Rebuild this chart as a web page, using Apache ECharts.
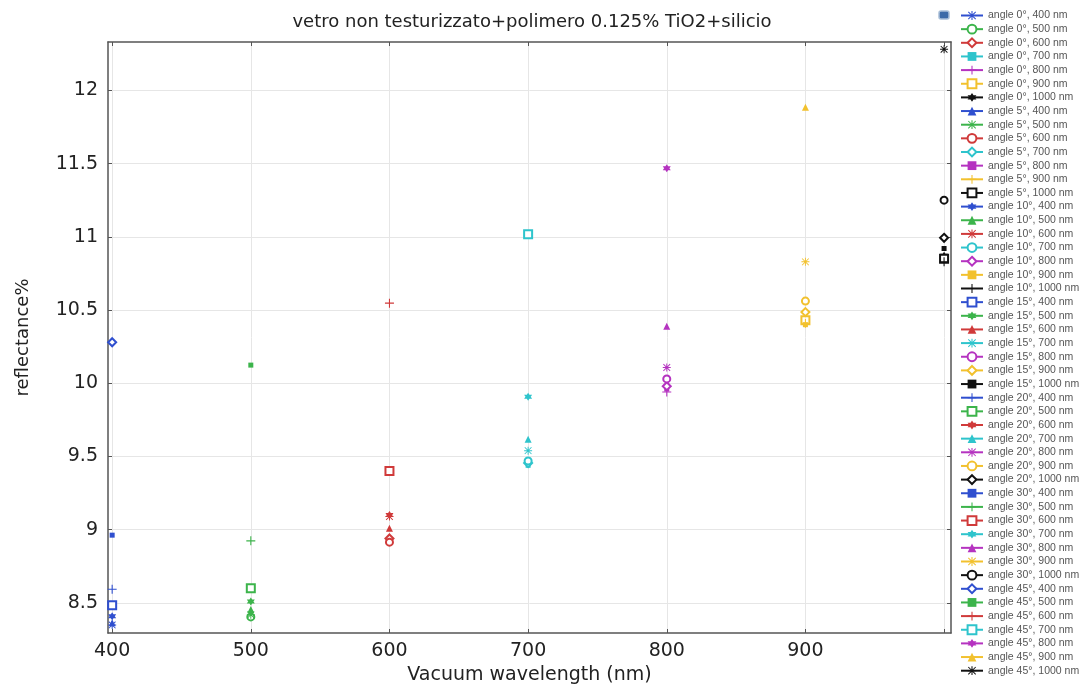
<!DOCTYPE html>
<html>
<head>
<meta charset="utf-8">
<script src="https://cdn.jsdelivr.net/npm/echarts@6/dist/echarts.min.js"></script>
<style>
  html, body { margin: 0; padding: 0; background: #fff; }
  #chart { width: 1087px; height: 684px; }
</style>
</head>
<body>
<div id="chart"></div>
<script>
// wavelengths (nm) on the x axis, one series per angle/wavelength pair
const wavelengths = [400, 500, 600, 700, 800, 900, 1000];
const angles = [0, 5, 10, 15, 20, 30, 45];

// reflectance%, one value per wavelength
const refl0  = [8.35, 8.405, 8.94, 9.44, 9.94, 10.43, 10.87];
const refl5  = [8.365, 8.42, 8.915, 9.455, 9.96, 10.41, 10.85];
const refl10 = [8.41, 8.455, 9.09, 9.47, 9.98, 10.40, 10.83];
const refl15 = [8.485, 8.51, 9.01, 9.54, 10.03, 10.486, 10.92];
const refl20 = [8.594, 8.60, 9.10, 9.617, 10.108, 10.561, 10.993];
const refl30 = [8.963, 8.924, 9.401, 9.908, 10.39, 10.829, 11.25];
const refl45 = [10.28, 10.124, 10.547, 11.018, 11.468, 11.884, 12.28];
const reflByAngle = [refl0, refl5, refl10, refl15, refl20, refl30, refl45];

const xTickLabels = [400, 500, 600, 700, 800, 900];
const xTicks = [400, 500, 600, 700, 800, 900, 1000];
const yTicks = [8.5, 9, 9.5, 10, 10.5, 11, 11.5, 12];

// one colour per wavelength, markers cycle like the original plot
const colors = ['#2f4fcf', '#3cb44b', '#d03a3a', '#2ec4cc', '#b533c0', '#f2c12e', '#111111'];
const asterisk = 'path://M4.4,0H5.6V10H4.4Z M0,4.4H10V5.6H0Z M1.2,0.4L9.6,8.8L8.8,9.6L0.4,1.2Z M8.8,0.4L9.6,1.2L1.2,9.6L0.4,8.8Z';
const plus = 'path://M4.4,0H5.6V4.4H10V5.6H5.6V10H4.4V5.6H0V4.4H4.4Z';
const star = 'path://M5,0L9.33,7.5L0.67,7.5Z M5,10L0.67,2.5L9.33,2.5Z';
const markers = [
  { symbol: asterisk, size: 8 },
  { symbol: 'emptyCircle', size: 7 },
  { symbol: 'emptyDiamond', size: 8 },
  { symbol: 'rect', size: 5 },
  { symbol: plus, size: 9 },
  { symbol: 'emptyRect', size: 8 },
  { symbol: star, size: 8 },
  { symbol: 'triangle', size: 7 }
];

const series = [];
const legendNames = [];
angles.forEach((a, ai) => {
  wavelengths.forEach((wl, wi) => {
    const idx = ai * wavelengths.length + wi;
    const m = markers[idx % markers.length];
    const name = 'angle ' + a + '°, ' + wl + ' nm';
    legendNames.push(name);
    series.push({
      name: name,
      type: 'line',
      data: [[wl, reflByAngle[ai][wi]]],
      symbol: m.symbol,
      symbolSize: m.size,
      showSymbol: true,
      color: colors[wi],
      itemStyle: { color: colors[wi], borderWidth: 1.2 },
      lineStyle: { color: colors[wi], width: 1 },
      animation: false,
      z: 3
    });
  });
});

const chart = echarts.init(document.getElementById('chart'));
const axisCol = '#555';

chart.setOption({
  animation: false,
  title: {
    text: 'vetro non testurizzato+polimero 0.125% TiO2+silicio',
    left: 527,
    textAlign: 'center',
    top: 8,
    textStyle: { fontFamily: 'DejaVu Sans', fontSize: 18, fontWeight: 'normal', color: '#222' }
  },
  legend: {
    orient: 'vertical',
    left: 960,
    top: 10,
    padding: 0,
    itemWidth: 22,
    itemHeight: 11,
    itemGap: 2.65,
    data: legendNames,
    textStyle: { fontFamily: 'Liberation Sans', fontSize: 10.5, lineHeight: 11, color: '#555' },
    selectedMode: false
  },
  graphic: [{
    type: 'rect',
    shape: { x: 939, y: 11, width: 10, height: 8, r: 2 },
    style: { fill: '#3d6ba8', stroke: '#a9bfd8', lineWidth: 1.5 }
  }],
  grid: { left: 108, right: 136, top: 42, bottom: 51, outerBoundsMode: 'none' },
  xAxis: [{
    type: 'value',
    min: 397,
    max: 1005,
    name: 'Vacuum wavelength (nm)',
    nameLocation: 'middle',
    nameGap: 29,
    nameTextStyle: { fontFamily: 'DejaVu Sans', fontSize: 19, color: '#222' },
    axisLine: { show: true, onZero: false, lineStyle: { color: axisCol, width: 1.5 } },
    axisTick: { show: true, inside: true, length: 4, customValues: xTicks, lineStyle: { color: axisCol } },
    axisLabel: { customValues: xTickLabels, margin: 9, fontFamily: 'DejaVu Sans', fontSize: 19, color: '#222' },
    splitLine: { show: true, lineStyle: { color: '#e6e6e6', width: 1 } }
  }, {
    type: 'value',
    position: 'top',
    min: 397,
    max: 1005,
    axisLine: { show: true, onZero: false, lineStyle: { color: axisCol, width: 1.5 } },
    axisTick: { show: true, inside: true, length: 4, customValues: xTicks, lineStyle: { color: axisCol } },
    axisLabel: { show: false },
    splitLine: { show: false }
  }],
  yAxis: [{
    type: 'value',
    min: 8.295,
    max: 12.33,
    name: 'reflectance%',
    nameLocation: 'middle',
    nameGap: 76,
    nameTextStyle: { fontFamily: 'DejaVu Sans', fontSize: 18, color: '#222' },
    axisLine: { show: true, onZero: false, lineStyle: { color: axisCol, width: 1.5 } },
    axisTick: { show: true, inside: true, length: 4, customValues: yTicks, lineStyle: { color: axisCol } },
    axisLabel: { customValues: yTicks, margin: 10, fontFamily: 'DejaVu Sans', fontSize: 19, color: '#222' },
    splitLine: { show: true, lineStyle: { color: '#e6e6e6', width: 1 } }
  }, {
    type: 'value',
    position: 'right',
    min: 8.295,
    max: 12.33,
    axisLine: { show: true, onZero: false, lineStyle: { color: axisCol, width: 1.5 } },
    axisTick: { show: true, inside: true, length: 4, customValues: yTicks, lineStyle: { color: axisCol } },
    axisLabel: { show: false },
    splitLine: { show: false }
  }],
  series: series
});
</script>
</body>
</html>
